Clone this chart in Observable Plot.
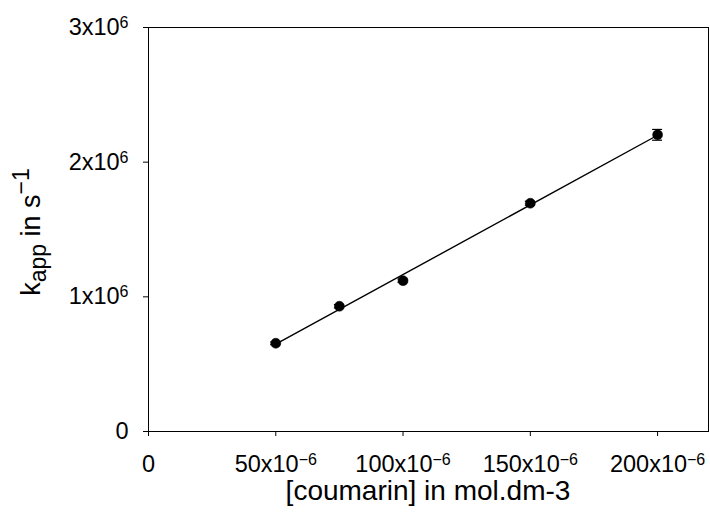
<!DOCTYPE html>
<html><head><meta charset="utf-8">
<script src="https://cdn.jsdelivr.net/npm/d3@7"></script>
<script src="https://cdn.jsdelivr.net/npm/@observablehq/plot@0.6"></script>
<style>
body{margin:0;background:#fff;}
#chart svg{display:block;}
</style>
</head><body><div id="chart"></div>
<script>
// data
const concentration = [50e-6, 75e-6, 100e-6, 150e-6, 200e-6];
const kapp = [0.655e6, 0.93e6, 1.12e6, 1.695e6, 2.203e6];
const kappErr = [0.01e6, 0.012e6, 0.012e6, 0.015e6, 0.04e6];
const xTicks = [0, 50e-6, 100e-6, 150e-6, 200e-6];
const xTickLabels = ["0", "50x10^-6", "100x10^-6", "150x10^-6", "200x10^-6"];
const yTicks = [0, 1e6, 2e6, 3e6];
const yTickLabels = ["0", "1x10^6", "2x10^6", "3x10^6"];
const xTitle = "[coumarin] in mol.dm-3";
const yTitleParts = ["k", "app", " in s", "-1"];

const data = concentration.map((c, i) => ({x: c, y: kapp[i], e: kappErr[i]}));

const W = 710, H = 516;
const font = "'Liberation Sans', Arial, sans-serif";

const chart = Plot.plot({
  width: W, height: H,
  marginLeft: 148, marginRight: 2, marginTop: 27, marginBottom: 85,
  style: {fontFamily: font, fontSize: "23.5px", color: "#000", background: "#fff", overflow: "visible"},
  x: {domain: [0, 220e-6], ticks: xTicks, tickFormat: d => xTickLabels[xTicks.indexOf(d)], tickSize: 5, tickPadding: 19, label: null},
  y: {domain: [0, 3e6], ticks: yTicks, tickFormat: d => yTickLabels[yTicks.indexOf(d)], tickSize: 5, tickPadding: 15, label: null},
  marks: [
    Plot.frame({stroke: "#000", strokeWidth: 1}),
    Plot.linearRegressionY(data, {x: "x", y: "y", ci: 0, stroke: "#000", strokeWidth: 1.4}),
    Plot.ruleX(data, {x: "x", y1: d => d.y - d.e, y2: d => d.y + d.e, stroke: "#000", strokeWidth: 1.2}),
    Plot.ruleY(data, {y: d => d.y + d.e, x1: "x", x2: "x", insetLeft: -5, insetRight: -5, stroke: "#000", strokeWidth: 1.2}),
    Plot.ruleY(data, {y: d => d.y - d.e, x1: "x", x2: "x", insetLeft: -5, insetRight: -5, stroke: "#000", strokeWidth: 1.2}),
    Plot.dot(data, {x: "x", y: "y", r: 5, fill: "#000", stroke: "#000", strokeWidth: 0.5})
  ]
});

const svg = d3.select(chart);
// superscripts in tick labels
svg.selectAll('g[aria-label$="tick label"] text').each(function() {
  const t = d3.select(this);
  const s = t.text();
  if (!s.includes("^")) return;
  const [base, sup] = s.split("^");
  t.text(null);
  t.append("tspan").text(base);
  t.append("tspan").attr("dy", "-7").attr("font-size", "16px").text(sup.replace("-", "\u2212"));
});

// axis titles
svg.append("text")
  .attr("x", 148 + (W - 2 - 148) / 2).attr("y", 500)
  .attr("text-anchor", "middle")
  .attr("font-family", font).attr("font-size", "28px").attr("fill", "#000")
  .text(xTitle);

const yt = svg.append("text")
  .attr("transform", "translate(40,232) rotate(-90)")
  .attr("text-anchor", "middle")
  .attr("font-family", font).attr("font-size", "27px").attr("fill", "#000");
yt.append("tspan").text(yTitleParts[0]);
yt.append("tspan").attr("font-size", "23px").attr("dy", "6").text(yTitleParts[1]);
yt.append("tspan").attr("dy", "-6").text(yTitleParts[2]);
yt.append("tspan").attr("font-size", "23px").attr("dy", "-11").text(yTitleParts[3].replace("-", "\u2212"));

document.getElementById("chart").appendChild(chart);
</script>
</body></html>
